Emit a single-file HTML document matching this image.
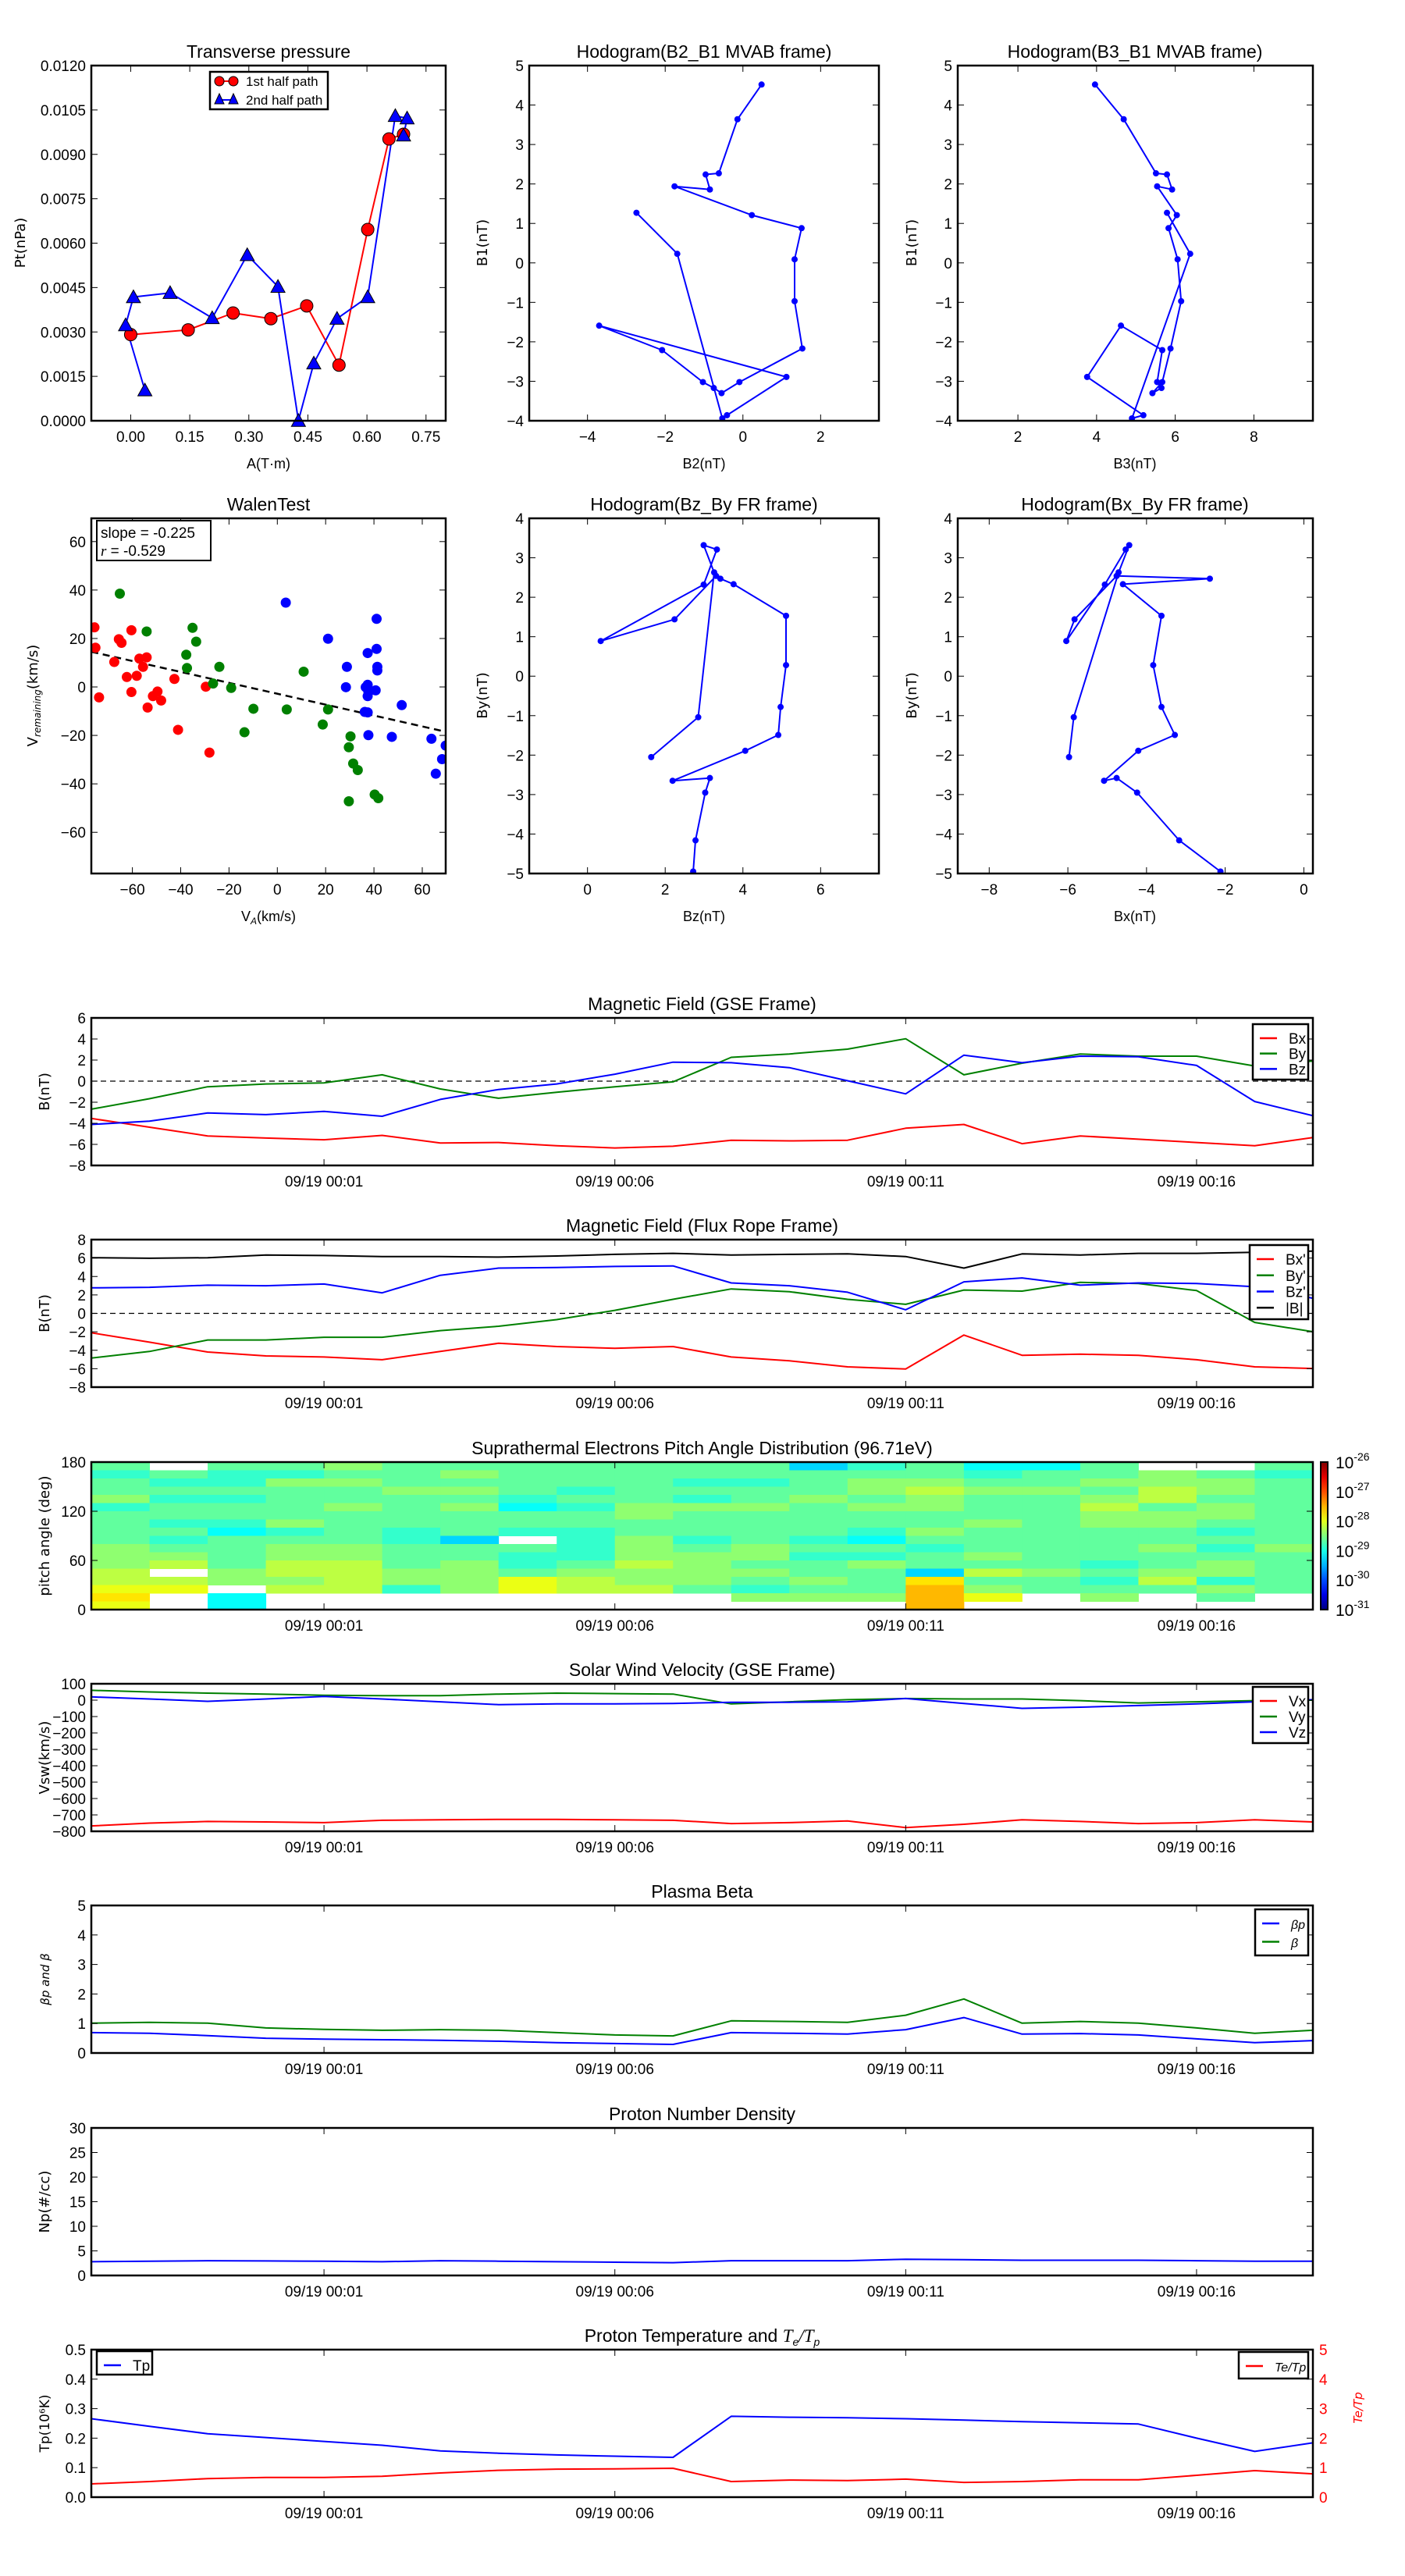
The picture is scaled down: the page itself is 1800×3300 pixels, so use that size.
<!DOCTYPE html>
<html><head><meta charset="utf-8"><title>Flux rope analysis</title>
<style>
html,body{margin:0;padding:0;background:#fff;}
svg{display:block;font-family:"Liberation Sans",sans-serif;}
</style></head>
<body>
<svg id="fig" width="1800" height="3300" viewBox="0 0 1800 3300" xmlns="http://www.w3.org/2000/svg"></svg>
<script>
// ---------- DATA ----------
const ptRedA=[0.0,0.146,0.26,0.356,0.447,0.529,0.602,0.656,0.693];
const ptRedP=[0.00291,0.00307,0.00364,0.00345,0.00388,0.00188,0.00646,0.00952,0.00968];
const ptBlueA=[0.036,-0.013,0.007,0.1,0.207,0.296,0.374,0.426,0.465,0.524,0.602,0.672,0.702,0.693];
const ptBlueP=[0.00103,0.00323,0.00418,0.00432,0.00347,0.0056,0.00453,0.0,0.00194,0.00345,0.00418,0.0103,0.01022,0.00964];
const ptXTicks=[0,0.15,0.3,0.45,0.6,0.75];
const ptXLabels=["0.00","0.15","0.30","0.45","0.60","0.75"];
const ptYTicks=[0,0.0015,0.003,0.0045,0.006,0.0075,0.009,0.0105,0.012];
const ptYLabels=["0.0000","0.0015","0.0030","0.0045","0.0060","0.0075","0.0090","0.0105","0.0120"];

const hB2=[0.48,-0.14,-0.62,-0.96,-0.85,-1.76,0.23,1.51,1.33,1.33,1.53,-0.09,-0.55,-0.75,-1.03,-2.08,-3.7,1.12,-0.41,-0.53,-1.69,-2.74];
const hB1=[4.52,3.64,2.27,2.24,1.86,1.94,1.21,0.88,0.09,-0.97,-2.17,-3.02,-3.3,-3.17,-3.02,-2.21,-1.59,-2.89,-3.86,-3.94,0.23,1.27];
const hB3=[3.96,4.69,5.51,5.79,5.92,5.54,6.04,5.83,6.06,6.15,5.88,5.67,5.42,5.65,5.54,5.67,4.62,3.76,5.19,4.9,6.38,5.79];

const wRedX=[-75.7,-75.3,-73.8,-67.5,-65.6,-64.5,-62.3,-60.4,-60.4,-58.2,-57.1,-55.6,-54.1,-53.7,-51.5,-49.6,-48.1,-42.6,-41.1,-29.6,-28.1];
const wRedY=[24.6,16.2,-4.3,10.3,19.7,18.2,4.1,23.4,-2.1,4.6,11.7,8.3,12.2,-8.5,-3.8,-1.9,-5.6,3.3,-17.7,0.1,-27.1];
const wGrnX=[-65.2,-54.1,-37.7,-37.4,-35.1,-33.6,-26.6,-24.0,-19.1,-13.6,-9.9,3.9,10.9,18.8,21.0,29.6,29.6,30.3,31.4,33.3,40.3,41.8];
const wGrnY=[38.5,22.9,13.3,7.8,24.4,18.7,1.4,8.3,-0.4,-18.7,-9.0,-9.3,6.3,-15.5,-9.3,-47.2,-24.9,-20.4,-31.6,-34.3,-44.4,-45.9];
const wBluX=[3.5,21.0,28.8,28.4,36.6,37.4,37.4,37.7,37.4,37.4,37.7,36.2,40.7,41.1,41.4,41.4,41.1,47.4,51.5,63.8,68.2,65.6,69.7];
const wBluY=[34.8,19.9,8.3,-0.1,-0.1,14.0,0.9,-2.1,-10.5,-3.8,-19.9,-10.3,-1.4,15.7,8.3,6.8,28.1,-20.6,-7.5,-21.4,-29.8,-35.8,-24.2];
const walenSlope=-0.225, walenIntercept=-2.8;

const frBz=[2.72,2.78,3.03,3.15,2.19,4.06,4.91,4.97,5.11,5.11,3.76,3.42,3.31,2.24,0.34,2.99,3.33,2.99,3.26,2.85,1.64];
const frBy=[-4.95,-4.16,-2.95,-2.58,-2.65,-1.89,-1.49,-0.78,0.28,1.53,2.33,2.47,2.54,1.44,0.89,2.32,3.21,3.32,2.63,-1.04,-2.05];
const frBx=[-2.12,-3.17,-4.24,-4.76,-5.08,-4.21,-3.28,-3.62,-3.83,-3.62,-4.6,-2.39,-4.76,-5.83,-6.04,-5.06,-4.53,-4.44,-4.71,-5.85,-5.97];

const timeLabels=["09/19 00:01","09/19 00:06","09/19 00:11","09/19 00:16"];
const timeTickMin=[4,9,14,19];

const gseBx=[-3.54,-4.37,-5.2,-5.4,-5.56,-5.15,-5.87,-5.82,-6.13,-6.34,-6.18,-5.61,-5.67,-5.61,-4.47,-4.11,-5.93,-5.2,-5.51,-5.82,-6.13,-5.35];
const gseBy=[-2.66,-1.67,-0.53,-0.27,-0.17,0.6,-0.74,-1.62,-1.05,-0.53,-0.07,2.26,2.58,3.04,4.02,0.6,1.7,2.58,2.37,2.37,1.44,1.9];
const gseBz=[-4.11,-3.8,-3.02,-3.18,-2.87,-3.33,-1.73,-0.79,-0.27,0.66,1.8,1.75,1.28,0.04,-1.21,2.47,1.75,2.37,2.32,1.49,-1.93,-3.28];

const fBx=[-2.11,-3.12,-4.19,-4.61,-4.73,-5.03,-4.13,-3.24,-3.6,-3.78,-3.6,-4.73,-5.15,-5.8,-6.04,-2.35,-4.55,-4.43,-4.55,-5.03,-5.8,-5.98];
const fBy=[-4.85,-4.13,-2.89,-2.89,-2.59,-2.59,-1.87,-1.4,-0.68,0.33,1.52,2.65,2.35,1.52,0.98,2.53,2.41,3.36,3.24,2.47,-0.98,-1.99];
const fBz=[2.77,2.83,3.06,3.0,3.18,2.23,4.13,4.91,4.97,5.09,5.15,3.3,3.0,2.29,0.39,3.42,3.84,3.06,3.3,3.24,2.89,1.64];
const fBt=[6.04,5.98,6.04,6.33,6.27,6.16,6.16,6.1,6.22,6.4,6.51,6.33,6.4,6.45,6.16,4.91,6.45,6.33,6.51,6.51,6.63,6.75];

const padCols=["434453444455566787",".434344343456.67..","433434432444455.22","4354444534556656..","5454454444556666..","4445444433444553..","4545454441445555..","444432443.433477..","4443434433334566..","4444455445556556..","4434354443455554..","44344544445545435.","14445444434344545.","34554544324354445.","445655445434418999","23454445444546457.","2445444444444544..","44545655444434345.",".556645544544564..",".4554554343455354.","4344444444544444.."];
const padLogBase=-29.55, padLogStep=0.225;

const vx=[-767,-750,-740,-743,-747,-733,-730,-727,-727,-730,-733,-753,-747,-737,-777,-757,-730,-740,-753,-747,-730,-743];
const vy=[60,50,43,37,30,27,27,37,43,40,37,-23,-10,3,10,7,7,-3,-17,-10,-3,0];
const vz=[20,7,-7,7,23,7,-10,-27,-23,-23,-20,-13,-13,-10,10,-20,-50,-43,-33,-23,-10,3];

const betaP=[0.69,0.67,0.59,0.5,0.47,0.45,0.43,0.4,0.35,0.32,0.29,0.69,0.67,0.64,0.79,1.2,0.64,0.66,0.61,0.48,0.35,0.42];
const betaT=[1.01,1.04,1.01,0.85,0.8,0.77,0.79,0.77,0.69,0.61,0.58,1.09,1.07,1.04,1.28,1.83,1.01,1.07,1.01,0.85,0.67,0.77];

const np=[2.8,2.9,3.0,2.95,2.9,2.8,3.0,2.9,2.8,2.7,2.6,3.0,3.0,3.0,3.3,3.2,3.1,3.1,3.1,3.0,2.9,2.9];

const tp=[0.266,0.24,0.215,0.202,0.189,0.176,0.157,0.149,0.143,0.139,0.135,0.274,0.271,0.269,0.266,0.261,0.256,0.252,0.248,0.2,0.155,0.184];
const teTp=[0.45,0.53,0.63,0.67,0.67,0.71,0.82,0.91,0.95,0.96,0.98,0.53,0.58,0.56,0.61,0.5,0.53,0.59,0.59,0.74,0.9,0.79];

// ---------- HELPERS ----------
const NS="http://www.w3.org/2000/svg";
const svg=document.getElementById('fig');
function mk(parent,tag,attrs,name,inter){
  const el=document.createElementNS(NS,tag);
  for(const k in attrs) el.setAttribute(k,attrs[k]);
  
  
  parent.appendChild(el);return el;
}
function txt(parent,x,y,s,size,anchor,name,extra){
  const a={x:x,y:y,'font-size':size,'text-anchor':anchor||'middle',fill:'#000'};
  if(extra) for(const k in extra) a[k]=extra[k];
  const t=mk(parent,'text',a,name,false);t.textContent=s;return t;
}
function makeAxes(name,x0,y0,w,h,xmin,xmax,ymin,ymax){
  const g=mk(svg,'g',{},name,false);
  const sx=v=>x0+(v-xmin)/(xmax-xmin)*w;
  const sy=v=>y0+h-(v-ymin)/(ymax-ymin)*h;
  const clipId='clip-'+name;
  const cp=mk(g,'clipPath',{id:clipId},name+'-clip',false);
  mk(cp,'rect',{x:x0,y:y0,width:w,height:h},name+'-clip-rect',false);
  const plot=mk(g,'g',{'clip-path':'url(#'+clipId+')'},name+'-plot-area',false);
  return {g,plot,sx,sy,x0,y0,w,h};
}
function frame(ax){
  mk(ax.g,'rect',{x:ax.x0,y:ax.y0,width:ax.w,height:ax.h,fill:'none',stroke:'#000','stroke-width':2.5},'axes-frame',false);
}
function yTicks(ax,vals,labels,size,color,right){
  vals.forEach((v,i)=>{
    const y=ax.sy(v);
    mk(ax.g,'line',{x1:ax.x0,x2:ax.x0+8,y1:y,y2:y,stroke:'#000','stroke-width':1},'y-tick',false);
    mk(ax.g,'line',{x1:ax.x0+ax.w,x2:ax.x0+ax.w-8,y1:y,y2:y,stroke:'#000','stroke-width':1},'y-tick-right',false);
    if(labels){
      if(right) txt(ax.g,ax.x0+ax.w+8,y+7,labels[i],size||19,'start','y-right-tick-label',{fill:color||'#000'});
      else txt(ax.g,ax.x0-7,y+7,labels[i],size||19,'end','y-tick-label');
    }
  });
}
function xTicks(ax,vals,labels,size){
  vals.forEach((v,i)=>{
    const x=ax.sx(v);
    mk(ax.g,'line',{x1:x,x2:x,y1:ax.y0+ax.h,y2:ax.y0+ax.h-8,stroke:'#000','stroke-width':1},'x-tick',false);
    mk(ax.g,'line',{x1:x,x2:x,y1:ax.y0,y2:ax.y0+8,stroke:'#000','stroke-width':1},'x-tick-top',false);
    if(labels) txt(ax.g,x,ax.y0+ax.h+27,labels[i],size||19,'middle','x-tick-label');
  });
}
function line(ax,xs,ys,color,name,w,dash){
  const d=xs.map((x,i)=>(i?'L':'M')+ax.sx(x).toFixed(1)+','+ax.sy(ys[i]).toFixed(1)).join('');
  const a={d:d,fill:'none',stroke:color,'stroke-width':w||2,'stroke-linejoin':'round'};
  if(dash) a['stroke-dasharray']=dash;
  return mk(ax.plot,'path',a,name,false);
}
function dots(ax,xs,ys,color,r,name,stroke){
  xs.forEach((x,i)=>{
    mk(ax.plot,'circle',{cx:ax.sx(x),cy:ax.sy(ys[i]),r:r,fill:color,stroke:stroke||'none','stroke-width':1},name,false);
  });
}
function tri(ax,xs,ys,color,s,name){
  xs.forEach((x,i)=>{
    const cx=ax.sx(x),cy=ax.sy(ys[i]);
    mk(ax.g,'polygon',{points:(cx)+','+(cy-s)+' '+(cx-s)+','+(cy+s*0.8)+' '+(cx+s)+','+(cy+s*0.8),fill:color,stroke:'#000','stroke-width':1},name,false);
  });
}
function ylabel(x,y,s,size,name,color){
  return txt(svg,x,y,s,size||18,'middle',name,{transform:'rotate(-90 '+x+' '+y+')',fill:color||'#000',
    'font-family':'DejaVu Sans, sans-serif'});
}
function legend(x,y,w,h,items,name){
  const g=mk(svg,'g',{},name,false);
  mk(g,'rect',{x:x,y:y,width:w,height:h,fill:'#fff',stroke:'#000','stroke-width':2.5},name+'-box',false);
  items.forEach((it,i)=>{
    const yy=y+18+i*((h-12)/items.length);
    mk(g,'line',{x1:x+9,x2:x+31,y1:yy,y2:yy,stroke:it[1],'stroke-width':2.5},'legend-line-'+i,false);
    txt(g,x+46,yy+7,it[0],19,'start','legend-entry-'+i,it[2]||{});
  });
}

// ---------- TOP ROW ----------
const C1=[117,571],C2=[678,1126],C3=[1227,1682];
const R1=[84,539],R2=[664,1119];

// Transverse pressure
let ax=makeAxes('transverse-pressure-chart',C1[0],R1[0],C1[1]-C1[0],R1[1]-R1[0],-0.1,0.8,0,0.012);
line(ax,ptRedA,ptRedP,'#f00','first-half-path-line');
line(ax,ptBlueA,ptBlueP,'#00f','second-half-path-line');
dots(ax,ptRedA,ptRedP,'#f00',8,'first-half-point','#000');
tri(ax,ptBlueA,ptBlueP,'#00f',9,'second-half-point');
frame(ax);xTicks(ax,ptXTicks,ptXLabels);yTicks(ax,ptYTicks,ptYLabels);
txt(svg,344,74,'Transverse pressure',23,'middle','transverse-pressure-title');
txt(svg,344,600,'A(T·m)',18,'middle','x-axis-title-a');
ylabel(32,311,'Pt(nPa)',18,'y-axis-title-pt');
{const g=mk(svg,'g',{},'pressure-legend',false);
 mk(g,'rect',{x:269,y:92,width:151,height:48,fill:'#fff',stroke:'#000','stroke-width':2.5},'pressure-legend-box',false);
 mk(g,'line',{x1:280,x2:300,y1:104,y2:104,stroke:'#f00','stroke-width':2},'legend-line-red',false);
 mk(g,'circle',{cx:281,cy:104,r:6,fill:'#f00',stroke:'#000'},'legend-marker-red',false);
 mk(g,'circle',{cx:299,cy:104,r:6,fill:'#f00',stroke:'#000'},'legend-marker-red',false);
 txt(g,315,110,'1st half path',17,'start','legend-entry-first-half');
 mk(g,'line',{x1:280,x2:300,y1:128,y2:128,stroke:'#00f','stroke-width':2},'legend-line-blue',false);
 mk(g,'polygon',{points:'281,120 275,133 287,133',fill:'#00f',stroke:'#000'},'legend-marker-blue',false);
 mk(g,'polygon',{points:'299,120 293,133 305,133',fill:'#00f',stroke:'#000'},'legend-marker-blue',false);
 txt(g,315,134,'2nd half path',17,'start','legend-entry-second-half');}

// Hodogram B2_B1
ax=makeAxes('hodogram-b2-b1-chart',C2[0],R1[0],C2[1]-C2[0],R1[1]-R1[0],-5.5,3.5,-4,5);
line(ax,hB2,hB1,'#00f','hodogram-b2-b1-line');dots(ax,hB2,hB1,'#00f',4,'hodogram-b2-b1-point');
frame(ax);xTicks(ax,[-4,-2,0,2],['−4','−2','0','2']);yTicks(ax,[-4,-3,-2,-1,0,1,2,3,4,5],['−4','−3','−2','−1','0','1','2','3','4','5']);
txt(svg,902,74,'Hodogram(B2_B1 MVAB frame)',23,'middle','hodogram-b2-b1-title');
txt(svg,902,600,'B2(nT)',18,'middle','x-axis-title-b2');ylabel(624,311,'B1(nT)',18,'y-axis-title-b1');

// Hodogram B3_B1
ax=makeAxes('hodogram-b3-b1-chart',C3[0],R1[0],C3[1]-C3[0],R1[1]-R1[0],0.47,9.5,-4,5);
line(ax,hB3,hB1,'#00f','hodogram-b3-b1-line');dots(ax,hB3,hB1,'#00f',4,'hodogram-b3-b1-point');
frame(ax);xTicks(ax,[2,4,6,8],['2','4','6','8']);yTicks(ax,[-4,-3,-2,-1,0,1,2,3,4,5],['−4','−3','−2','−1','0','1','2','3','4','5']);
txt(svg,1454,74,'Hodogram(B3_B1 MVAB frame)',23,'middle','hodogram-b3-b1-title');
txt(svg,1454,600,'B3(nT)',18,'middle','x-axis-title-b3');ylabel(1174,311,'B1(nT)',18,'y-axis-title-b1-right');

// Walen test
ax=makeAxes('walen-test-chart',C1[0],R2[0],C1[1]-C1[0],R2[1]-R2[0],-77,69.7,-77,69.6);
mk(ax.plot,'line',{x1:ax.sx(-77),y1:ax.sy(walenSlope*-77+walenIntercept),x2:ax.sx(69.7),y2:ax.sy(walenSlope*69.7+walenIntercept),stroke:'#000','stroke-width':2.5,'stroke-dasharray':'9,6'},'walen-fit-line',false);
dots(ax,wRedX,wRedY,'#f00',6.5,'walen-point-red');
dots(ax,wGrnX,wGrnY,'#008000',6.5,'walen-point-green');
dots(ax,wBluX,wBluY,'#00f',6.5,'walen-point-blue');
frame(ax);xTicks(ax,[-60,-40,-20,0,20,40,60],['−60','−40','−20','0','20','40','60']);
yTicks(ax,[-60,-40,-20,0,20,40,60],['−60','−40','−20','0','20','40','60']);
txt(svg,344,654,'WalenTest',23,'middle','walen-test-title');
{const t=txt(svg,344,1180,'V',18,'middle','x-axis-title-va');const s=document.createElementNS(NS,'tspan');s.setAttribute('font-size','12');s.setAttribute('dy','4');s.setAttribute('font-style','italic');s.textContent='A';t.appendChild(s);const s2=document.createElementNS(NS,'tspan');s2.setAttribute('dy','-4');s2.textContent='(km/s)';t.appendChild(s2);}
{const t=ylabel(48,891,'V',18,'y-axis-title-vremaining');const s=document.createElementNS(NS,'tspan');s.setAttribute('font-size','12');s.setAttribute('dy','4');s.setAttribute('font-style','italic');s.textContent='remaining';t.appendChild(s);const s2=document.createElementNS(NS,'tspan');s2.setAttribute('dy','-4');s2.textContent='(km/s)';t.appendChild(s2);}
{const g=mk(svg,'g',{},'walen-stats-box',false);
 mk(g,'rect',{x:124,y:667,width:146,height:51,fill:'#fff',stroke:'#000','stroke-width':2},'walen-stats-frame',false);
 txt(g,129,689,'slope = -0.225',19,'start','walen-slope-text');
 const t=txt(g,129,712,'',19,'start','walen-r-text');
 const s=document.createElementNS(NS,'tspan');s.setAttribute('font-style','italic');s.setAttribute('font-family','Liberation Serif, serif');s.textContent='r';t.appendChild(s);
 const s2=document.createElementNS(NS,'tspan');s2.textContent=' = -0.529';t.appendChild(s2);}

// Hodogram Bz_By
ax=makeAxes('hodogram-bz-by-chart',C2[0],R2[0],C2[1]-C2[0],R2[1]-R2[0],-1.5,7.5,-5,4);
line(ax,frBz,frBy,'#00f','hodogram-bz-by-line');dots(ax,frBz,frBy,'#00f',4,'hodogram-bz-by-point');
frame(ax);xTicks(ax,[0,2,4,6],['0','2','4','6']);yTicks(ax,[-5,-4,-3,-2,-1,0,1,2,3,4],['−5','−4','−3','−2','−1','0','1','2','3','4']);
txt(svg,902,654,'Hodogram(Bz_By FR frame)',23,'middle','hodogram-bz-by-title');
txt(svg,902,1180,'Bz(nT)',18,'middle','x-axis-title-bz');ylabel(624,891,'By(nT)',18,'y-axis-title-by');

// Hodogram Bx_By
ax=makeAxes('hodogram-bx-by-chart',C3[0],R2[0],C3[1]-C3[0],R2[1]-R2[0],-8.8,0.23,-5,4);
line(ax,frBx,frBy,'#00f','hodogram-bx-by-line');dots(ax,frBx,frBy,'#00f',4,'hodogram-bx-by-point');
frame(ax);xTicks(ax,[-8,-6,-4,-2,0],['−8','−6','−4','−2','0']);yTicks(ax,[-5,-4,-3,-2,-1,0,1,2,3,4],['−5','−4','−3','−2','−1','0','1','2','3','4']);
txt(svg,1454,654,'Hodogram(Bx_By FR frame)',23,'middle','hodogram-bx-by-title');
txt(svg,1454,1180,'Bx(nT)',18,'middle','x-axis-title-bx');ylabel(1174,891,'By(nT)',18,'y-axis-title-by-right');

// ---------- TIME SERIES ----------
const TX0=117,TX1=1682,PH=189;
const tops=[1304,1588,1873,2157,2441,2726,3010];
const tIdx=gseBx.map((v,i)=>i);
function tsAxes(name,k,ymin,ymax,title,ytv,ytl,ylab){
  const a=makeAxes(name,TX0,tops[k],TX1-TX0,PH,0,21,ymin,ymax);
  txt(svg,(TX0+TX1)/2,tops[k]-10,title,23,'middle',name+'-title');
  if(ylab) ylabel(63,tops[k]+PH/2,ylab,18,name+'-y-title');
  a.ytv=ytv;a.ytl=ytl;return a;
}
function tsFinish(a){frame(a);xTicks(a,timeTickMin,timeLabels,19);yTicks(a,a.ytv,a.ytl);}

// GSE
ax=tsAxes('magnetic-field-gse-chart',0,-8,6,'Magnetic Field (GSE Frame)',[-8,-6,-4,-2,0,2,4,6],['−8','−6','−4','−2','0','2','4','6'],'B(nT)');
mk(ax.plot,'line',{x1:TX0,x2:TX1,y1:ax.sy(0),y2:ax.sy(0),stroke:'#000','stroke-width':1.2,'stroke-dasharray':'7,5'},'zero-line',false);
line(ax,tIdx,gseBx,'#f00','bx-line');line(ax,tIdx,gseBy,'#008000','by-line');line(ax,tIdx,gseBz,'#00f','bz-line');
tsFinish(ax);legend(1605,1312,71,71,[['Bx','#f00'],['By','#008000'],['Bz','#00f']],'gse-legend');

// Flux rope
ax=tsAxes('magnetic-field-flux-rope-chart',1,-8,8,'Magnetic Field (Flux Rope Frame)',[-8,-6,-4,-2,0,2,4,6,8],['−8','−6','−4','−2','0','2','4','6','8'],'B(nT)');
mk(ax.plot,'line',{x1:TX0,x2:TX1,y1:ax.sy(0),y2:ax.sy(0),stroke:'#000','stroke-width':1.2,'stroke-dasharray':'7,5'},'zero-line',false);
line(ax,tIdx,fBx,'#f00','bx-prime-line');line(ax,tIdx,fBy,'#008000','by-prime-line');line(ax,tIdx,fBz,'#00f','bz-prime-line');line(ax,tIdx,fBt,'#000','b-magnitude-line');
tsFinish(ax);legend(1601,1595,75,95,[["Bx'",'#f00'],["By'",'#008000'],["Bz'",'#00f'],['|B|','#000']],'flux-rope-legend');

// PAD heatmap
function jet(t){const c=v=>Math.round(255*Math.max(0,Math.min(1,v)));return 'rgb('+c(1.5-Math.abs(4*t-3))+','+c(1.5-Math.abs(4*t-2))+','+c(1.5-Math.abs(4*t-1))+')';}
ax=tsAxes('pitch-angle-distribution-chart',2,0,180,'Suprathermal Electrons Pitch Angle Distribution (96.71eV)',[0,60,120,180],['0','60','120','180'],'pitch angle (deg)');
padCols.forEach((col,ci)=>{
  for(let r=0;r<18;r++){
    const ch=col[r]; if(!ch||ch==='.') continue;
    const lg=padLogBase+padLogStep*(+ch);
    const t=(lg+31)/5;
    const yTop=ax.sy(180-r*10), yBot=ax.sy(170-r*10);
    mk(ax.plot,'rect',{x:ax.sx(ci),y:yTop,width:ax.sx(ci+1)-ax.sx(ci)+0.5,height:yBot-yTop+0.5,fill:jet(t)},'pad-cell',false);
  }
});
tsFinish(ax);
{const g=mk(svg,'g',{},'pad-colorbar',false);
 const df=mk(g,'defs',{},'colorbar-defs',false);
 const lgd=mk(df,'linearGradient',{id:'jetgrad',x1:0,y1:1,x2:0,y2:0},'colorbar-gradient',false);
 for(let i=0;i<=10;i++){mk(lgd,'stop',{offset:(i*10)+'%','stop-color':jet(i/10)},'gradient-stop',false);}
 const cy0=tops[2],cy1=tops[2]+PH;
 mk(g,'rect',{x:1692,y:cy0,width:9,height:PH,fill:'url(#jetgrad)',stroke:'#000','stroke-width':2},'colorbar-bar',false);
 for(let e=0;e<=5;e++){
   const y=cy1-e*PH/5;
   const t=txt(g,1711,y+8,'10',21,'start','colorbar-label');
   const s=document.createElementNS(NS,'tspan');s.setAttribute('font-size','14');s.setAttribute('dy','-10');s.textContent='-'+(31-e);t.appendChild(s);
 }}

// Solar wind
ax=tsAxes('solar-wind-velocity-chart',3,-800,100,'Solar Wind Velocity (GSE Frame)',[-800,-700,-600,-500,-400,-300,-200,-100,0,100],['−800','−700','−600','−500','−400','−300','−200','−100','0','100'],'Vsw(km/s)');
line(ax,tIdx,vx,'#f00','vx-line');line(ax,tIdx,vy,'#008000','vy-line');line(ax,tIdx,vz,'#00f','vz-line');
tsFinish(ax);legend(1605,2161,71,72,[['Vx','#f00'],['Vy','#008000'],['Vz','#00f']],'solar-wind-legend');

// Beta
ax=tsAxes('plasma-beta-chart',4,0,5,'Plasma Beta',[0,1,2,3,4,5],['0','1','2','3','4','5'],null);
line(ax,tIdx,betaP,'#00f','beta-p-line');line(ax,tIdx,betaT,'#008000','beta-line');
tsFinish(ax);
{const t=ylabel(63,tops[4]+PH/2,'β',15,'plasma-beta-y-title');t.setAttribute('font-style','italic');t.textContent='βp and β';}
legend(1608,2446,68,59,[['βp','#00f',{'font-style':'italic','font-size':16}],['β','#008000',{'font-style':'italic','font-size':16}]],'beta-legend');

// Density
ax=tsAxes('proton-density-chart',5,0,30,'Proton Number Density',[0,5,10,15,20,25,30],['0','5','10','15','20','25','30'],'Np(#/cc)');
line(ax,tIdx,np,'#00f','density-line');
tsFinish(ax);

// Temperature
ax=tsAxes('proton-temperature-chart',6,0,0.5,'',[0,0.1,0.2,0.3,0.4,0.5],['0.0','0.1','0.2','0.3','0.4','0.5'],null);
{const t=txt(svg,(TX0+TX1)/2,tops[6]-10,'Proton Temperature and ',23,'middle','proton-temperature-title');
 const s=document.createElementNS(NS,'tspan');s.setAttribute('font-style','italic');s.setAttribute('font-family','Liberation Serif, serif');s.textContent='T';t.appendChild(s);
 const s2=document.createElementNS(NS,'tspan');s2.setAttribute('font-size','14');s2.setAttribute('dy','5');s2.setAttribute('font-style','italic');s2.textContent='e';t.appendChild(s2);
 const s3=document.createElementNS(NS,'tspan');s3.setAttribute('dy','-5');s3.setAttribute('font-style','italic');s3.setAttribute('font-family','Liberation Serif, serif');s3.textContent='/T';t.appendChild(s3);
 const s4=document.createElementNS(NS,'tspan');s4.setAttribute('font-size','14');s4.setAttribute('dy','5');s4.setAttribute('font-style','italic');s4.textContent='p';t.appendChild(s4);}
line(ax,tIdx,tp,'#00f','tp-line');
const axR={g:ax.g,plot:ax.plot,sx:ax.sx,sy:v=>tops[6]+PH-v/5*PH,x0:ax.x0,y0:ax.y0,w:ax.w,h:ax.h};
line(axR,tIdx,teTp,'#f00','te-tp-ratio-line');
tsFinish(ax);
[0,1,2,3,4,5].forEach(v=>{txt(svg,TX1+8,axR.sy(v)+7,String(v),19,'start','right-y-tick-label',{fill:'#f00'});});
ylabel(63,tops[6]+PH/2,'Tp(10⁶K)',17,'tp-y-title');
ylabel(1745,tops[6]+PH/2-20,'Te/Tp',15,'te-tp-y-title','#f00').setAttribute('font-style','italic');
legend(124,3012,71,30,[['Tp','#00f']],'tp-legend');
legend(1587,3013,89,34,[['Te/Tp','#f00',{'font-style':'italic','font-size':16}]],'te-tp-legend');
</script>
</body></html>
